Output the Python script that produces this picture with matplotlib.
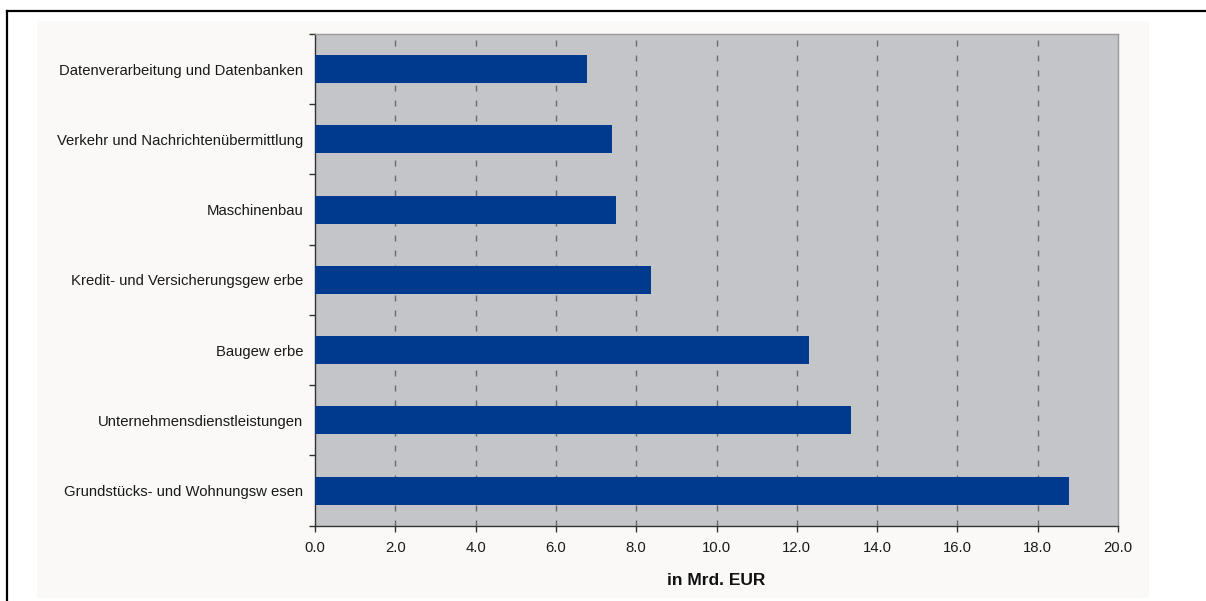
import matplotlib
matplotlib.use("Agg")
import matplotlib.pyplot as plt
from matplotlib.lines import Line2D
from matplotlib.patches import Rectangle
import numpy as np

# Branchen, von oben nach unten wie im Original
branchen = [
    "Datenverarbeitung und Datenbanken",
    "Verkehr und Nachrichtenübermittlung",
    "Maschinenbau",
    "Kredit- und Versicherungsgew erbe",
    "Baugew erbe",
    "Unternehmensdienstleistungen",
    "Grundstücks- und Wohnungsw esen",
]
werte = [6.77, 7.40, 7.50, 8.37, 12.30, 13.35, 18.78]
x_ticks = [0, 2, 4, 6, 8, 10, 12, 14, 16, 18, 20]
x_label = "in Mrd. EUR"

plt.rcParams["font.family"] = ["Liberation Sans", "DejaVu Sans"]
plt.rcParams["font.size"] = 10.7

W, H = 1206, 601
fig = plt.figure(figsize=(W / 100, H / 100), dpi=100, facecolor="white")

# heller Hintergrund und schwarzer Rahmen (links, oben)
fig.patches.append(Rectangle((37 / W, 3 / H), 1112 / W, 577 / H,
                             transform=fig.transFigure, facecolor="#faf9f7",
                             edgecolor="none", zorder=-5))
fig.lines.append(Line2D([7 / W, 7 / W], [0, 1 - 11 / H], transform=fig.transFigure,
                        color="black", lw=1.6))
fig.lines.append(Line2D([7 / W, 1], [1 - 11 / H, 1 - 11 / H], transform=fig.transFigure,
                        color="black", lw=1.6))

ax = fig.add_axes([315 / W, (H - 525.7) / H, (1118 - 315) / W, (525.7 - 34) / H])
ax.set_facecolor("#c4c5c9")

# unterste Kategorie bei y=0
namen = branchen[::-1]
vals = werte[::-1]
pos = np.arange(len(namen))
ax.barh(pos, vals, height=0.4, color="#003a8f", zorder=3)

ax.set_xlim(0, 20)
ax.set_ylim(-0.5, len(namen) - 0.5)

ax.set_xticks(x_ticks)
ax.set_xticklabels([f"{v:.1f}" for v in x_ticks])
ax.tick_params(axis="x", direction="out", length=4, width=1, color="#333333",
               pad=6.8, labelsize=10.7, labelcolor="#1a1a1a")

ax.set_yticks(np.arange(-0.5, len(namen), 1.0))
ax.set_yticklabels([])
ax.set_yticks(pos, minor=True)
ax.set_yticklabels(namen, minor=True)
ax.tick_params(axis="y", which="major", direction="out", length=4, width=1, color="#333333")
ax.tick_params(axis="y", which="minor", length=0, pad=8.5, labelsize=10.7, labelcolor="#1a1a1a")

for v in x_ticks[1:-1]:
    ax.axvline(v, color="#6a6a6a", lw=1.0, linestyle=(0, (4.3, 6.5)), zorder=2)

for s in ["left", "bottom"]:
    ax.spines[s].set_color("#333333")
    ax.spines[s].set_linewidth(1.0)
for s in ["top", "right"]:
    ax.spines[s].set_color("#9a9a9a")
    ax.spines[s].set_linewidth(1.0)

ax.set_xlabel(x_label, fontweight="bold", fontsize=12.5, labelpad=13.5, color="#111111")

fig.savefig("out.png", dpi=100, facecolor="white")
